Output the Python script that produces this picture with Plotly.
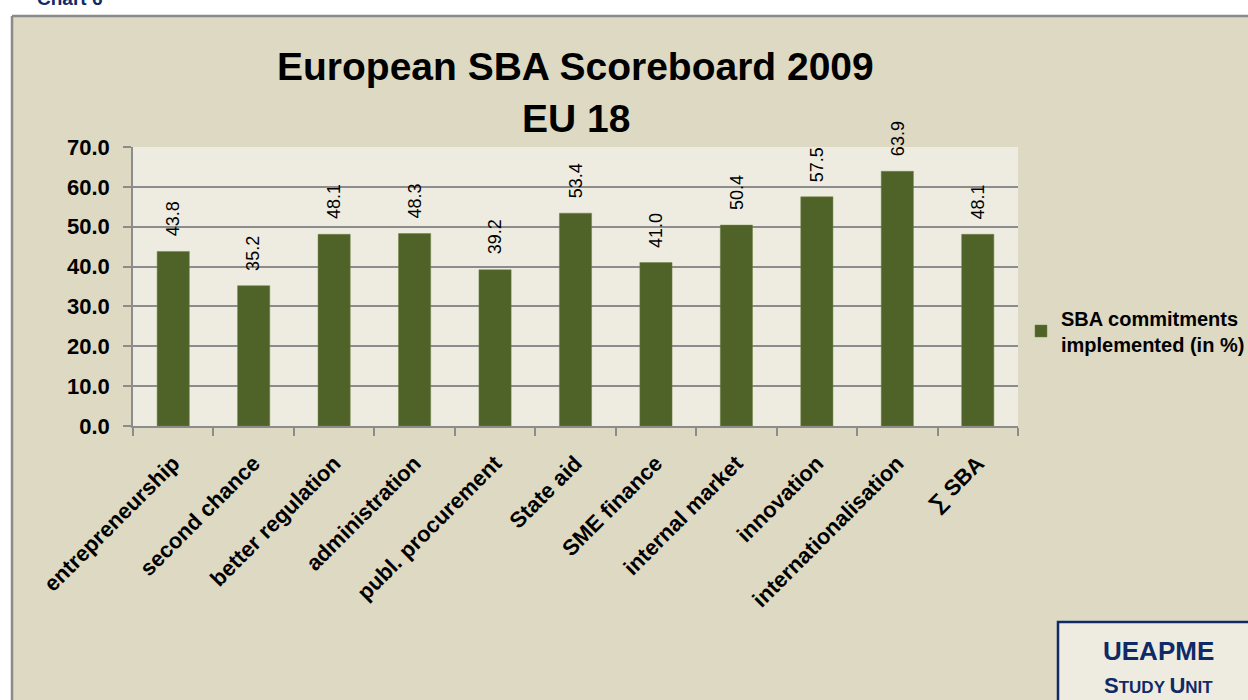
import plotly.graph_objects as go

categories = ["entrepreneurship", "second chance", "better regulation", "administration",
              "publ. procurement", "State aid", "SME finance", "internal market",
              "innovation", "internationalisation", "∑ SBA"]
values = [43.8, 35.2, 48.1, 48.3, 39.2, 53.4, 41.0, 50.4, 57.5, 63.9, 48.1]
series_name = "SBA commitments<br>implemented (in %)"
y_ticks = [0, 10, 20, 30, 40, 50, 60, 70]

W, H = 1248, 700
L, R, T, B = 133, 1018, 147, 426
FONT = "Liberation Sans, Arial, Helvetica, sans-serif"

def px(x):
    return (x - L) / (R - L)

def py(y):
    return (B - y) / (B - T)

BEIGE = "#DDD9C3"
PLOTBG = "#EEECE1"
BAR = "#4F6228"
GRID = "#8C8C8C"
NAVY = "#0F2A66"

fig = go.Figure()
fig.add_trace(go.Bar(
    x=categories, y=values, name=series_name,
    marker=dict(color=BAR, line=dict(color="#6E8040", width=0.5)),
    width=0.4, showlegend=True,
))

annotations = []
for c, v in zip(categories, values):
    annotations.append(dict(
        x=c, y=v, xref="x", yref="y", text=f"{v:.1f}", textangle=-90,
        showarrow=False, yanchor="bottom", xanchor="center", yshift=13,
        font=dict(family=FONT, size=18, color="black"),
    ))

# Title
annotations.append(dict(x=0.5, y=py(67), xref="paper", yref="paper",
                        text="<b>European SBA Scoreboard 2009</b>", showarrow=False,
                        xanchor="center", yanchor="middle",
                        font=dict(family=FONT, size=39, color="black")))
annotations.append(dict(x=0.5, y=py(119), xref="paper", yref="paper",
                        text="<b>EU 18</b>", showarrow=False,
                        xanchor="center", yanchor="middle",
                        font=dict(family=FONT, size=39, color="black")))
# Chart label (top cut off, as in the source)
annotations.append(dict(x=px(35), y=py(11), xref="paper", yref="paper",
                        text="<b>Chart 6</b>", showarrow=False,
                        xanchor="left", yanchor="bottom",
                        font=dict(family=FONT, size=19, color=NAVY)))
# UEAPME box texts
annotations.append(dict(x=px(1158), y=py(651), xref="paper", yref="paper",
                        text="<b>UEAPME</b>", showarrow=False,
                        xanchor="center", yanchor="middle",
                        font=dict(family=FONT, size=26, color=NAVY)))
annotations.append(dict(x=px(1158), y=py(685), xref="paper", yref="paper",
                        text="<b><span style='font-size:22px'>S</span>TUDY <span style='font-size:22px'>U</span>NIT</b>",
                        showarrow=False, xanchor="center", yanchor="middle",
                        font=dict(family=FONT, size=17, color=NAVY)))

shapes = [
    # white margins outside frame
    dict(type="rect", xref="paper", yref="paper", x0=px(-10), x1=px(W + 10),
         y0=py(16), y1=py(-10), fillcolor="white", line=dict(width=0), layer="below"),
    dict(type="rect", xref="paper", yref="paper", x0=px(-10), x1=px(12),
         y0=py(H + 10), y1=py(-10), fillcolor="white", line=dict(width=0), layer="below"),
    # frame lines
    dict(type="line", xref="paper", yref="paper", x0=px(12), x1=px(W + 10),
         y0=py(16), y1=py(16), line=dict(color="#8A8A8A", width=2.5)),
    dict(type="line", xref="paper", yref="paper", x0=px(12), x1=px(12),
         y0=py(16), y1=py(H + 10), line=dict(color="#8A8A8A", width=2.5)),
    # UEAPME box
    dict(type="rect", xref="paper", yref="paper", x0=px(1058), x1=px(W + 20),
         y0=py(622), y1=py(H + 20), fillcolor=PLOTBG, line=dict(color=NAVY, width=2.5)),
]

fig.update_layout(
    width=W, height=H,
    margin=dict(l=L, r=W - R, t=T, b=H - B, pad=0, autoexpand=False),
    paper_bgcolor=BEIGE, plot_bgcolor=PLOTBG,
    font=dict(family=FONT, color="black"),
    bargap=0.6,
    showlegend=True,
    legend=dict(x=px(1021), y=py(331), xanchor="left", yanchor="middle",
                bgcolor="rgba(0,0,0,0)", borderwidth=0,
                font=dict(family=FONT, size=20, color="black", weight="bold"),
                itemclick=False, itemdoubleclick=False),
    annotations=annotations,
    shapes=shapes,
)
fig.update_xaxes(
    type="category", tickangle=-45, ticks="outside", ticklen=8, tickwidth=1.5,
    tickcolor=GRID, tickson="boundaries", showline=True, linecolor=GRID, linewidth=1.5,
    showgrid=False, automargin=False, ticklabelstandoff=14,
    tickfont=dict(family=FONT, size=22, color="black", weight="bold"),
)
fig.update_yaxes(
    range=[0, 70], tickvals=y_ticks, ticktext=[f"{t:.1f}" for t in y_ticks],
    ticks="outside", ticklen=8, tickwidth=1.5, tickcolor=GRID,
    showline=True, linecolor=GRID, linewidth=1.5, automargin=False,
    ticklabelstandoff=9,
    showgrid=True, gridcolor=GRID, gridwidth=1.5, zeroline=False,
    tickfont=dict(family=FONT, size=22, color="black", weight="bold"),
)

fig.write_html(
    "out.html",
    config={"displayModeBar": False},
    post_script="document.body.style.margin='0';document.body.style.overflow='hidden';",
)
